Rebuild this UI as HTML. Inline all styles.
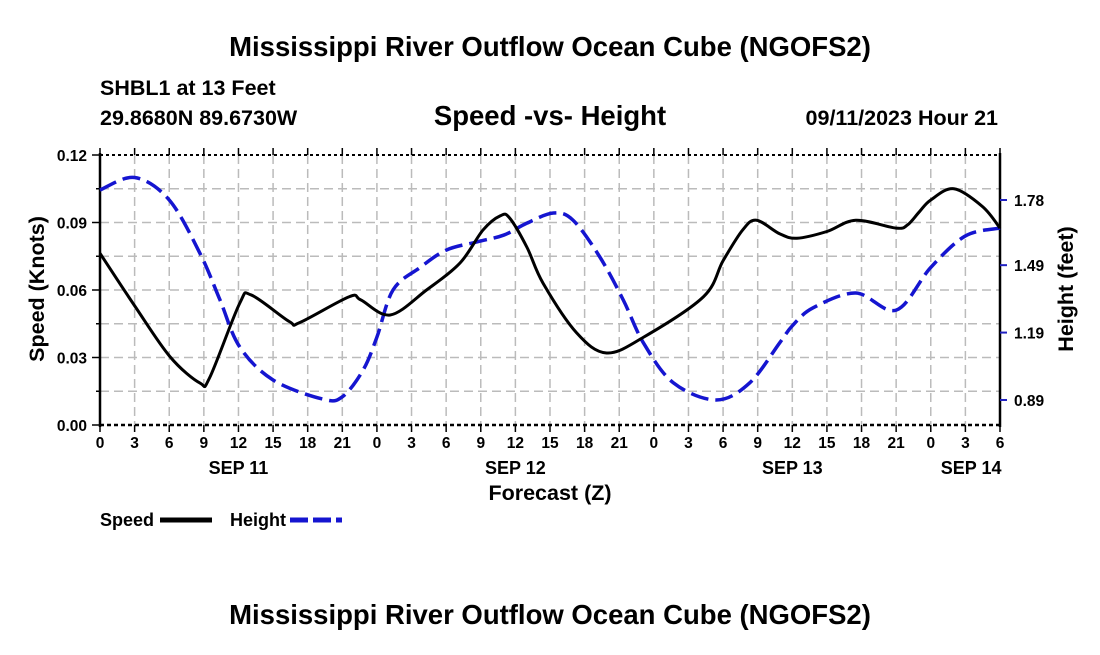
<!DOCTYPE html>
<html><head><meta charset="utf-8"><style>
body{margin:0;background:#fff;}
svg text{font-family:"Liberation Sans",Arial,sans-serif;font-weight:bold;fill:#000;}
</style></head><body>
<svg id="c" width="1100" height="650">
<text x="550" y="56" text-anchor="middle" font-size="27.5">Mississippi River Outflow Ocean Cube (NGOFS2)</text>
<text x="100" y="95" font-size="21.5">SHBL1 at 13 Feet</text>
<text x="100" y="125" font-size="21.5">29.8680N  89.6730W</text>
<text x="550" y="125" text-anchor="middle" font-size="27.5">Speed -vs- Height</text>
<text x="998" y="125" text-anchor="end" font-size="21.5">09/11/2023 Hour 21</text>
<g id="grid"></g>
<g id="axes"></g>
<g id="series"></g>
<text x="550" y="500" text-anchor="middle" font-size="21.5">Forecast (Z)</text>
<text transform="translate(44,289) rotate(-90)" text-anchor="middle" font-size="21.5">Speed (Knots)</text>
<text transform="translate(1073,289) rotate(-90)" text-anchor="middle" font-size="21.5">Height (feet)</text>
<g>
<text x="100" y="526" font-size="18">Speed</text>
<line x1="160" y1="520" x2="212" y2="520" stroke="#000" stroke-width="5"/>
<text x="230" y="526" font-size="18">Height</text>
<line x1="290" y1="520" x2="342" y2="520" stroke="#1515d0" stroke-width="5" stroke-dasharray="18,5"/>
</g>
<text x="550" y="624" text-anchor="middle" font-size="27.5">Mississippi River Outflow Ocean Cube (NGOFS2)</text>
</svg>
<script>
const speedHours=[0,3,6.06,8.65,9.5,12.1,13.1,16.4,17.3,21.6,22.6,25.15,28.3,31.2,33.2,34.7,35.5,37,38.4,41.3,43.9,47.1,52.3,54,55.7,56.9,58.9,60.4,63,65.5,69,70,71,72,74,76.5,78];
const speedVals=[0.0763,0.053,0.0304,0.0187,0.021,0.054,0.0578,0.046,0.0455,0.057,0.0556,0.0489,0.060,0.072,0.0867,0.093,0.092,0.079,0.063,0.041,0.032,0.039,0.057,0.073,0.0867,0.091,0.085,0.083,0.086,0.091,0.0875,0.089,0.0947,0.100,0.105,0.097,0.0875];
const heightHours=[0,3,6,8.65,10.4,12.1,15,19.3,21,22.8,24,25.4,27.75,30,32.7,35,37,39.3,41,43.3,45.35,47.1,49.7,53.4,56.3,58.9,60,61.8,65.5,69,72,75,78];
const heightVals=[1.8245,1.88,1.78,1.544,1.335,1.127,0.979,0.894,0.904,1.023,1.17,1.38,1.48,1.557,1.594,1.624,1.677,1.722,1.69,1.528,1.335,1.144,0.966,0.89,0.966,1.144,1.22,1.30,1.366,1.29,1.48,1.62,1.655];
const xTickLabels=["0","3","6","9","12","15","18","21","0","3","6","9","12","15","18","21","0","3","6","9","12","15","18","21","0","3","6"];
const dayLabels=["SEP 11","SEP 12","SEP 13","SEP 14"];
const dayHours=[12,36,60,75.5];
const speedTicks=[0,0.03,0.06,0.09,0.12];
const heightTicks=[0.89,1.19,1.49,1.78];
const L=100,R=1000,T=155,B=425;
const xs=h=>L+(h/78)*(R-L);
const ys=v=>B-(v/0.12)*(B-T);
const yh=v=>200+(1.78-v)*224.7;
const NS="http://www.w3.org/2000/svg";
function mk(tag,at,parent){const e=document.createElementNS(NS,tag);for(const k in at)e.setAttribute(k,at[k]);parent.appendChild(e);return e;}
const gridG=document.getElementById('grid'),axesG=document.getElementById('axes'),seriesG=document.getElementById('series');
for(let i=1;i<8;i++){const y=ys(i*0.015);
 const g=mk('line',{x1:L,x2:R,y1:y,y2:y,stroke:'#bbb','stroke-width':1.5,'stroke-dasharray':'9,5'},gridG);
 
 }
for(let i=1;i<26;i++){const x=xs(i*3);
 const g=mk('line',{x1:x,x2:x,y1:T,y2:B,stroke:'#bbb','stroke-width':1.5,'stroke-dasharray':'9,5'},gridG);
 
 }
const topBorder=mk('line',{x1:L,x2:R,y1:T,y2:T,stroke:'#000','stroke-width':2,'stroke-dasharray':'3,3'},axesG);


const botAxis=mk('line',{x1:L,x2:R,y1:B,y2:B,stroke:'#000','stroke-width':2.5,'stroke-dasharray':'4,3'},axesG);


const leftAxis=mk('line',{x1:L,x2:L,y1:T-2,y2:B+2,stroke:'#000','stroke-width':2.5},axesG);


const rightAxis=mk('line',{x1:R,x2:R,y1:T-2,y2:B+2,stroke:'#000','stroke-width':2.5},axesG);


xTickLabels.forEach((t,i)=>{const x=xs(i*3);
 mk('line',{x1:x,x2:x,y1:B,y2:B+7,stroke:'#000','stroke-width':1.5},axesG);
 mk('line',{x1:x,x2:x,y1:T,y2:T-7,stroke:'#000','stroke-width':1.5},axesG);
 const tx=mk('text',{x:x,y:B+23,'text-anchor':'middle','font-size':15.5},axesG);tx.textContent=t;
 
 });
dayLabels.forEach((d,i)=>{const tx=mk('text',{x:xs(dayHours[i]),y:B+49,'text-anchor':'middle','font-size':18},axesG);tx.textContent=d;
 
 });
for(let i=0;i<=8;i++){const y=ys(i*0.015);mk('line',{x1:L-(i%2?4:8),x2:L,y1:y,y2:y,stroke:'#000','stroke-width':1.5},axesG);}
speedTicks.forEach(v=>{const tx=mk('text',{x:L-13,y:ys(v)+6,'text-anchor':'end','font-size':15.5},axesG);tx.textContent=v.toFixed(2);
 
 });
heightTicks.forEach(v=>{const y=yh(v);mk('line',{x1:R,x2:R+7,y1:y,y2:y,stroke:'#2020c0','stroke-width':2},axesG);
 const tx=mk('text',{x:R+14,y:y+6,'font-size':15.5},axesG);tx.textContent=v.toFixed(2);
 
 });
function smooth(pts){let d='M'+pts[0][0]+','+pts[0][1];
 for(let i=0;i<pts.length-1;i++){const p0=pts[i-1]||pts[i],p1=pts[i],p2=pts[i+1],p3=pts[i+2]||p2;
  d+=' C'+(p1[0]+(p2[0]-p0[0])/6)+','+(p1[1]+(p2[1]-p0[1])/6)+' '+(p2[0]-(p3[0]-p1[0])/6)+','+(p2[1]-(p3[1]-p1[1])/6)+' '+p2[0]+','+p2[1];}
 return d;}
const hp=mk('path',{d:smooth(heightHours.map((h,i)=>[xs(h),yh(heightVals[i])])),fill:'none',stroke:'#1515d0','stroke-width':3.5,'stroke-dasharray':'18,7'},seriesG);


const sp=mk('path',{d:smooth(speedHours.map((h,i)=>[xs(h),ys(speedVals[i])])),fill:'none',stroke:'#000','stroke-width':3},seriesG);


</script>
</body></html>
